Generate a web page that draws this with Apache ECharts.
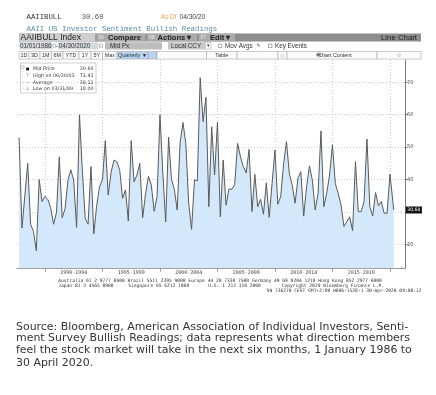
<!DOCTYPE html>
<html><head><meta charset="utf-8">
<script src="https://cdn.jsdelivr.net/npm/echarts@6/dist/echarts.min.js"></script>
<style>html,body{margin:0;padding:0;background:#fff;}#c{width:436px;height:395px;}</style>
</head><body><div id="c"></div>
<script>
// ---- data (quarter-end readings, AAII bullish %) ----
const quarterEnds = [
 '1987-09-30','1987-12-31',
 '1988-03-31','1988-06-30','1988-09-30','1988-12-31',
 '1989-03-31','1989-06-30','1989-09-30','1989-12-31',
 '1990-03-31','1990-06-30','1990-09-30','1990-12-31',
 '1991-03-31','1991-06-30','1991-09-30','1991-12-31',
 '1992-03-31','1992-06-30','1992-09-30','1992-12-31',
 '1993-03-31','1993-06-30','1993-09-30','1993-12-31',
 '1994-03-31','1994-06-30','1994-09-30','1994-12-31',
 '1995-03-31','1995-06-30','1995-09-30','1995-12-31',
 '1996-03-31','1996-06-30','1996-09-30','1996-12-31',
 '1997-03-31','1997-06-30','1997-09-30','1997-12-31',
 '1998-03-31','1998-06-30','1998-09-30','1998-12-31',
 '1999-03-31','1999-06-30','1999-09-30','1999-12-31',
 '2000-03-31','2000-06-30','2000-09-30','2000-12-31',
 '2001-03-31','2001-06-30','2001-09-30','2001-12-31',
 '2002-03-31','2002-06-30','2002-09-30','2002-12-31',
 '2003-03-31','2003-06-30','2003-09-30','2003-12-31',
 '2004-03-31','2004-06-30','2004-09-30','2004-12-31',
 '2005-03-31','2005-06-30','2005-09-30','2005-12-31',
 '2006-03-31','2006-06-30','2006-09-30','2006-12-31',
 '2007-03-31','2007-06-30','2007-09-30','2007-12-31',
 '2008-03-31','2008-06-30','2008-09-30','2008-12-31',
 '2009-03-31','2009-06-30','2009-09-30','2009-12-31',
 '2010-03-31','2010-06-30','2010-09-30','2010-12-31',
 '2011-03-31','2011-06-30','2011-09-30','2011-12-31',
 '2012-03-31','2012-06-30','2012-09-30','2012-12-31',
 '2013-03-31','2013-06-30','2013-09-30','2013-12-31',
 '2014-03-31','2014-06-30','2014-09-30','2014-12-31',
 '2015-03-31','2015-06-30','2015-09-30','2015-12-31',
 '2016-03-31','2016-06-30','2016-09-30','2016-12-31',
 '2017-03-31','2017-06-30','2017-09-30','2017-12-31',
 '2018-03-31','2018-06-30','2018-09-30','2018-12-31',
 '2019-03-31','2019-06-30','2019-09-30','2019-12-31',
 '2020-03-31','2020-04-30'
];
const bullish = [
 53.0,25.0,
 35.0,45.0,26.2,24.0,
 18.0,40.0,33.2,34.8,
 33.8,31.3,26.2,29.8,
 47.0,28.2,31.0,39.8,
 43.0,39.8,25.2,60.0,
 43.0,28.0,26.2,44.0,
 23.2,32.0,37.8,40.0,
 52.0,35.2,42.2,46.0,
 45.5,43.0,34.2,36.8,
 27.2,52.0,39.3,41.4,
 45.0,28.2,35.7,41.0,
 38.3,30.2,34.7,60.0,
 42.0,26.9,53.1,40.1,
 37.0,30.6,51.2,57.6,
 51.1,32.7,24.6,39.9,
 39.6,71.43,57.9,65.4,
 31.6,56.3,41.4,57.7,
 28.5,46.0,32.1,37.1,
 37.0,38.3,51.2,47.0,
 44.0,42.0,49.3,30.1,
 41.6,31.6,33.9,29.3,
 39.0,28.3,38.8,49.1,
 32.4,34.7,44.7,51.7,
 41.9,38.3,32.7,40.4,
 42.4,28.7,37.8,44.2,
 39.9,30.6,35.7,55.0,
 31.6,35.7,41.4,50.7,
 38.8,35.7,32.1,25.5,
 27.0,28.5,24.2,45.5,
 30.1,30.1,33.2,52.5,
 31.6,28.7,36.0,31.9,
 33.2,29.6,29.6,41.7,
 33.2,30.6
];
const yTicks = [20,30,40,50,60,70];
const gridYears = [1990,1995,2000,2005,2010,2015,2020];
const periodLabels = ['1990-1994','1995-1999','2000-2004','2005-2009','2010-2014','2015-2019'];
const minorYears = [1988,1989,1991,1992,1993,1994,1996,1997,1998,1999,2001,2002,2003,2004,2006,2007,2008,2009,2011,2012,2013,2014,2016,2017,2018,2019,2021];
const legendRows = [['Mid Price','30.60'],['High on 06/30/03','71.43'],['Average','38.11'],['Low on 03/31/89','18.00']];
const captionLines = [
 'Source: Bloomberg, American Association of Individual Investors, Senti-',
 'ment Survey Bullish Readings; data represents what direction members',
 'feel the stock market will take in the next six months, 1 January 1986 to',
 '30 April 2020.'
];

// ---- helpers ----
function toYear(s){
  const d = new Date(s + 'T00:00:00Z');
  const y = d.getUTCFullYear();
  const a = Date.UTC(y,0,1), b = Date.UTC(y+1,0,1);
  return y + (d.getTime() - a) / (b - a);
}
const seriesData = quarterEnds.map((d,i)=>[toYear(d), bullish[i]]);
const midPoints = gridYears.slice(0,-1).map(y=>y+2.5);

const G = [];
function rect(x,y,w,h,fill,stroke,lw){G.push({type:'rect',silent:true,shape:{x:x,y:y,width:w,height:h},style:{fill:fill,stroke:stroke||null,lineWidth:stroke?(lw||0.6):0}});}
function txt(x,y,text,size,color,o){
  o=o||{};
  G.push({type:'text',silent:true,style:{x:x,y:y,text:text,fill:color,fontSize:size,
    fontFamily:o.family||'Liberation Sans',fontWeight:o.weight||'normal',
    textAlign:o.align||'left',textVerticalAlign:'middle'}});
}
function line(x1,y1,x2,y2,color,lw,dash){G.push({type:'line',silent:true,shape:{x1:x1,y1:y1,x2:x2,y2:y2},style:{stroke:color,lineWidth:lw||0.6,lineDash:dash||null}});}

// header
txt(26.5,17,'AAIIBULL',7.3,'#333',{family:'Liberation Mono'});
txt(81.7,17,'30.60',7.3,'#555',{family:'Liberation Mono'});
txt(160.7,17,'As Of',6.3,'#f0a040',{family:'Liberation Sans'});
txt(179.5,17,'04/30/20',6.6,'#444',{family:'Liberation Sans'});
txt(26.5,28.7,'AAII US Investor Sentiment Bullish Readings',7.4,'#5f8aa3',{family:'Liberation Mono'});

// toolbar row 1
rect(19,33.5,402,8,'#8d8d8d');
rect(19.3,33.8,76,7.4,'#cfcfcf');
txt(20.5,37.6,'AAIIBULL Index',8.5,'#222');
rect(96.5,33.8,49,7.4,'#ababab');
txt(98.5,37.6,'96',5,'#e6e6e6');
txt(108,37.6,'Compare',7.6,'#222',{weight:'bold'});
rect(147,33.8,50,7.4,'#ababab');
txt(149,37.6,'98',5,'#e6e6e6');
txt(157.5,37.6,'Actions \u25BE',7.6,'#222',{weight:'bold'});
rect(198.5,33.8,36.5,7.4,'#ababab');
txt(200.5,37.6,'97',5,'#e6e6e6');
txt(210,37.6,'Edit \u25BE',7.6,'#222',{weight:'bold'});
txt(417,37.6,'Line Chart',7.8,'#222',{align:'right'});

// toolbar row 2
rect(19.3,42.3,33,7.2,'#d6d9df');
txt(20,46,'01/01/1986',6.3,'#333');
rect(52.8,44.2,3,3,'#fff','#777',0.5);
txt(56,46,'-',6.3,'#333');
rect(58,42.3,40.5,7.2,'#d6d9df');
txt(58.8,46,'04/30/2020',6.3,'#333');
rect(99.5,44.2,3,3,'#fff','#777',0.5);
rect(105,42.3,57,7.2,'#bdbdbd');
txt(110,46,'Mid Px',6.3,'#333');
rect(168,42.3,37,7.2,'#c8c8c8');
txt(171,46,'Local CCY',6.3,'#333');
rect(205.5,42.6,5.5,6.6,'#fff','#999',0.5);
txt(206.5,46,'\u25BE',5,'#333');
rect(218.5,44.2,3.4,3.4,'#fff','#555',0.5);
txt(225,46,'Mov Avgs',6.3,'#333');
txt(256.5,46,'\u270E',5,'#333',{family:'DejaVu Sans'});
rect(268.5,44.2,3.4,3.4,'#fff','#555',0.5);
txt(275,46,'Key Events',6.3,'#333');

// toolbar row 3
const cells = [[19,29,'1D'],[29,40,'3D'],[40,51.5,'1M'],[51.5,63,'6M'],[63,79,'YTD'],[79,91,'1Y'],[91,102.5,'5Y'],[102.5,117,'Max'],
 [117,148,'Quarterly \u25BC','#b8d2f0'],[148,157,'','#b8d2f0'],[157,206.5,''],[206.5,237,'Table'],[237,278,''],[278,287,'\u25CE'],[287,377,'Chart Content'],[377,421,'\u2699']];
cells.forEach(c=>{
  rect(c[0],51.5,c[1]-c[0],7.6,c[3]||'#fbfbfb','#9a9a9a',0.5);
  if(c[2]){
    const faint = (c[2]==='\u25CE'||c[2]==='\u2699');
    txt((c[0]+c[1])/2 + (c[2]==='Chart Content'?3:0),55.4,c[2],faint?5:5.4,faint?'#bbb':'#333',{align:'center',family:faint?'DejaVu Sans':'Liberation Sans'});
  }
});
// small printer icon next to "Chart Content"
rect(316.5,53.6,4,2.4,'#666');
rect(317.3,52.8,2.4,1,'#fff','#666',0.4);
rect(317.3,55.6,2.4,1.4,'#fff','#666',0.4);

// legend box
rect(20.5,63,75.5,30,'#ffffff','#9a9a9a',0.5);
rect(21.5,65.7,2.6,2.6,'#fff','#888',0.4);
line(22.8,68.5,22.8,89,'#aaa',0.4,[0.6,0.8]);
[69,75.7,82.3,89].forEach((y,i)=>{
  line(22.8,y,25.2,y,'#aaa',0.4,[0.6,0.8]);
  if(i===0) rect(26.2,y-1.4,2.8,2.8,'#111');
  else txt(27.6,y,['','\u22A4','\u2013','\u22A5'][i],4.8,'#444',{family:'DejaVu Sans',align:'center'});
  txt(33,y,legendRows[i][0],4.8,'#333',{family:'DejaVu Sans'});
  txt(93.5,y,legendRows[i][1],4.8,'#333',{family:'DejaVu Sans',align:'right'});
});

// footer text lines
const mono = {family:'DejaVu Sans Mono'};
txt(58.3,281,'Australia 61 2 9777 8600 Brazil 5511 2395 9000 Europe 44 20 7330 7500 Germany 49 69 9204 1210 Hong Kong 852 2977 6000',4.6,'#333',mono);
txt(58.3,285.8,'Japan 81 3 4565 8900',4.6,'#333',mono);
txt(128.3,285.8,'Singapore 65 6212 1000',4.6,'#333',mono);
txt(208.3,285.8,'U.S. 1 212 318 2000',4.6,'#333',mono);
txt(281.7,285.8,'Copyright 2020 Bloomberg Finance L.P.',4.6,'#333',mono);
txt(421.5,291,'SN 736270 CEST GMT+2:00 H696-1528-1 30-Apr-2020 09:08:12',4.6,'#333',{family:'DejaVu Sans Mono',align:'right'});

// caption
const capY = [326.7,338.3,350,363.3];
captionLines.forEach((t,i)=>txt(16,capY[i],t,10.95,'#333',{family:'DejaVu Sans'}));

const chart = echarts.init(document.getElementById('c'),null,{renderer:'canvas'});
chart.setOption({
  animation:false,
  backgroundColor:'#fff',
  grid:{left:17,right:31,top:60,height:208.3,containLabel:false},
  xAxis:[{
    type:'value',min:1987.565,max:2021.304,
    axisLine:{show:true,lineStyle:{color:'#777',width:0.8}},
    axisTick:{show:true,customValues:gridYears,length:3.5,lineStyle:{color:'#777',width:0.7}},
    axisLabel:{show:true,customValues:midPoints,fontSize:5,color:'#444',fontFamily:'DejaVu Sans Mono',margin:1.5,
      formatter:v=>periodLabels[midPoints.indexOf(v)]||''},
    splitLine:{show:true,lineStyle:{color:'#b5b5b5',width:0.7,type:[1,2]}}
  },{
    type:'value',min:1987.565,max:2021.304,position:'bottom',
    axisLine:{show:false},
    axisTick:{show:true,inside:true,customValues:minorYears,length:1.5,lineStyle:{color:'#777',width:0.6}},
    axisLabel:{show:false},splitLine:{show:false}
  }],
  yAxis:{
    type:'value',position:'right',min:12.6,max:76.9,
    axisLine:{show:true,lineStyle:{color:'#555',width:0.8}},
    axisTick:{show:true,customValues:yTicks,length:2.5,lineStyle:{color:'#555',width:0.7}},
    axisLabel:{show:true,customValues:yTicks,fontSize:5,color:'#444',fontFamily:'DejaVu Sans',margin:2},
    splitLine:{show:true,lineStyle:{color:'#b5b5b5',width:0.7,type:[1,2]}}
  },
  series:[{
    type:'line',xAxisIndex:0,data:seriesData,symbol:'none',
    lineStyle:{color:'#5a5a5a',width:1},
    areaStyle:{color:'#d3e8fb',origin:'start',opacity:1},
    endLabel:{show:true,formatter:()=>bullish[bullish.length-1].toFixed(2),backgroundColor:'#111',color:'#fff',
      fontSize:4.6,fontFamily:'DejaVu Sans',padding:[1,1.5],distance:12},
    z:2
  }],
  graphic:G
});
</script></body></html>
